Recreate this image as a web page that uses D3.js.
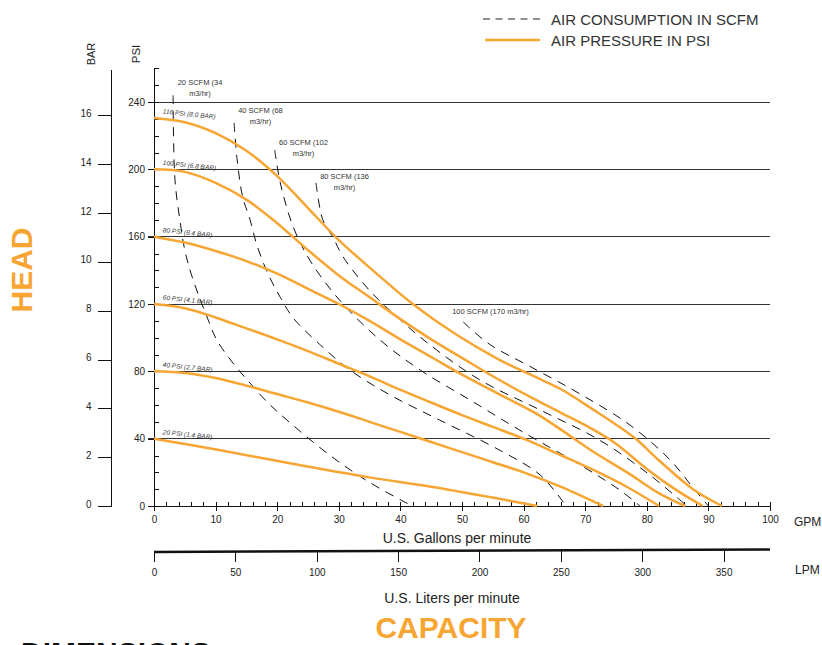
<!DOCTYPE html>
<html>
<head>
<meta charset="utf-8">
<title>Pump Performance Curve</title>
<style>
  body { margin: 0; padding: 0; background: #fff; overflow: hidden; }
  svg { display: block; font-family: "Liberation Sans", Arial, sans-serif; }
  .axis path, .axis line { stroke: #111; shape-rendering: crispEdges; }
  .axis text { fill: #222; font-size: 10px; font-family: "Liberation Sans", Arial, sans-serif; }
  .grid { stroke: #333; stroke-width: 1; shape-rendering: crispEdges; }
  .pressure { fill: none; stroke: #f7a634; stroke-width: 2.5; }
  .air { fill: none; stroke: #111; stroke-width: 1; stroke-dasharray: 9,7; }
  .note { fill: #333; font-size: 7.5px; }
  .psinote { fill: #333; font-size: 6.5px; font-style: italic; }
</style>
</head>
<body>
<svg id="chart" width="822" height="645"></svg>
<script src="https://d3js.org/d3.v7.min.js"></script>
<script>
// tick labels
const gpmTicks = [0, 10, 20, 30, 40, 50, 60, 70, 80, 90, 100];
const psiTicks = [0, 40, 80, 120, 160, 200, 240];
const barTicks = [0, 2, 4, 6, 8, 10, 12, 14, 16];
const lpmTicks = [0, 50, 100, 150, 200, 250, 300, 350];

// air pressure curves, [GPM, head PSI]
const psi116 = [[0,230.5],[5,228],[10,221.5],[15,211],[20,196],[25,177],[30,158],[36,138.5],[42,120],[49,102],[56,87],[62,76.5],[66,69.5],[71,58],[78,40.5],[82,27],[87.5,10],[92.2,0]];
const psi100 = [[0,200],[5,198.5],[10,192],[15,182],[20,168],[25,152],[30,137],[35,124],[40,111],[45,99],[50,88],[56,75],[62,63],[66,55.5],[71,46],[75,37],[80,22],[85,9],[89.1,0]];
const psi80 = [[0,160],[5,156.5],[10,151.5],[15,145.5],[20,138],[25,129],[30,120],[35,110],[40,99],[45,88.5],[50,78],[56,66.5],[62,55],[66,45.5],[71,33],[77,19.5],[82,7.5],[86.2,0]];
const psi60 = [[0,120],[5,117.5],[10,112],[15,105.5],[20,99],[25,92],[30,84.5],[35,77],[40,69],[45,61.5],[50,54],[55,47],[60,40],[66,30.3],[71,22],[76.8,11.3],[82,0]];
const psi40 = [[0,80],[5,79],[10,76],[15,71.5],[20,66.5],[25,61.5],[30,56],[35,50],[40,44],[45,38],[50,32],[55,26],[60,20],[66,11.5],[72.9,0]];
const psi20 = [[0,40],[11,33],[24,24],[35,17],[45,11.5],[55,5],[62.2,0]];
const pressureNames = ["116 PSI (8.0 BAR)", "100 PSI (6.8 BAR)", "80 PSI (8.4 BAR)", "60 PSI (4.1 BAR)", "40 PSI (2.7 BAR)", "20 PSI (1.4 BAR)"];

// air consumption curves, [GPM, head PSI]
const scfm20 = [[3.1,244],[3.4,194],[4.2,170],[5.0,152],[6.2,136],[8.8,110.5],[10.2,98.6],[12.8,85],[15.6,73],[18.3,62],[21.6,51],[28.6,30],[35,14],[41.9,0]];
const scfm40 = [[13,227.6],[13.5,205.6],[14.4,183.6],[15.6,170],[16.7,155],[18.5,138],[20.5,124],[22.6,111.7],[27,95.7],[31.8,80.8],[38.3,66],[46.4,51],[56.2,33],[62.7,18.4],[66.9,0]];
const scfm60 = [[19.6,211.5],[20.5,192],[22.6,165.8],[25.3,146],[30.2,122],[36.7,98.6],[43.2,80.8],[51.3,63],[59.4,45],[69.2,24.4],[75.6,9.5],[78.9,0]];
const scfm80 = [[26.3,192],[27.4,170],[29,160],[30.7,148],[35,128],[40,110.5],[44.8,95.7],[52.9,74.9],[62.7,57],[72.4,39],[80.5,18.4],[86.5,0]];
const scfm100 = [[50.2,109.3],[54.5,96],[61,83],[69.2,66.5],[77.3,48],[83.8,27.3],[87.8,9.5],[90,0]];
const scfmNames = [["20 SCFM (34", "m3/hr)"], ["40 SCFM (68", "m3/hr)"], ["60 SCFM (102", "m3/hr)"], ["80 SCFM (136", "m3/hr)"], ["100 SCFM (170 m3/hr)"]];

const PSI_PER_BAR = 14.5;
const LPM_PER_GPM = 3.785;

const svg = d3.select('#chart');
svg.append('rect').attr('width', 822).attr('height', 645).attr('fill', '#fff');

const x = d3.scaleLinear().domain([0, 100]).range([154, 770]);
const y = d3.scaleLinear().domain([0, 260]).range([506, 506 - 260 * 404 / 240]);
const yBar = d3.scaleLinear().domain([0, 16]).range([y(0), y(16 * PSI_PER_BAR)]);
const xLpm = d3.scaleLinear().domain([0, 100 * LPM_PER_GPM]).range([154, 770]);

// horizontal grid
svg.append('g').selectAll('line')
  .data(psiTicks.filter(d => d > 0))
  .join('line')
  .attr('class', 'grid')
  .attr('x1', 148).attr('x2', 770)
  .attr('y1', d => y(d)).attr('y2', d => y(d));

// PSI axis
svg.append('g').attr('class', 'axis')
  .attr('transform', 'translate(154,0)')
  .call(d3.axisRight(y).tickValues(d3.range(0, 261, 10)).tickSize(5).tickFormat('').tickSizeOuter(0));
svg.append('g').attr('class', 'axis')
  .attr('transform', 'translate(154,0)')
  .call(d3.axisLeft(y).tickValues(psiTicks).tickSize(6).tickPadding(3).tickSizeOuter(0))
  .call(g => g.select('.domain').remove());

// BAR axis
svg.append('line').attr('x1', 111.5).attr('x2', 111.5).attr('y1', 70).attr('y2', 507)
  .attr('stroke', '#111');
svg.append('g').attr('class', 'axis')
  .attr('transform', 'translate(111.5,0)')
  .call(d3.axisLeft(yBar).tickValues(barTicks).tickSize(14).tickPadding(6).tickSizeOuter(0))
  .call(g => g.select('.domain').remove())
  .call(g => g.selectAll('line').attr('stroke', '#555'))
  .call(g => g.selectAll('text').attr('font-size', 10.5).attr('dy', '0.1em'));

// GPM axis
svg.append('g').attr('class', 'axis')
  .attr('transform', 'translate(0,506)')
  .call(d3.axisTop(x).tickValues(d3.range(0, 101, 2)).tickSize(4).tickFormat('').tickSizeOuter(0));
svg.append('g').attr('class', 'axis')
  .attr('transform', 'translate(0,506)')
  .call(d3.axisBottom(x).tickValues(gpmTicks).tickSize(5).tickPadding(5).tickSizeOuter(0))
  .call(g => g.select('.domain').remove());

// LPM axis
svg.append('line').attr('x1', 154).attr('x2', 770).attr('y1', 552).attr('y2', 549.5)
  .attr('stroke', '#111').attr('stroke-width', 2.5);
svg.append('g').attr('class', 'axis')
  .attr('transform', 'translate(0,551)')
  .call(d3.axisBottom(xLpm).tickValues(lpmTicks).tickSize(11).tickPadding(7).tickSizeOuter(0))
  .call(g => g.select('.domain').remove());

// curves
const line = d3.line().x(d => x(d[0])).y(d => y(d[1])).curve(d3.curveCatmullRom.alpha(0.5));

const airCurves = [scfm20, scfm40, scfm60, scfm80, scfm100];
svg.append('g').selectAll('path')
  .data(airCurves)
  .join('path')
  .attr('class', 'air')
  .attr('d', line);

const pressureCurves = [psi116, psi100, psi80, psi60, psi40, psi20];
svg.append('g').selectAll('path')
  .data(pressureCurves)
  .join('path')
  .attr('class', 'pressure')
  .attr('d', line);

// pressure labels, sitting just over each curve's start
svg.append('g').selectAll('text')
  .data(pressureNames)
  .join('text')
  .attr('class', 'psinote')
  .attr('transform', (d, i) => `translate(${x(1.4)},${y(pressureCurves[i][0][1]) - 4.5}) rotate(6)`)
  .text(d => d);

// air consumption labels
const scfmLabelAt = [[7.47, 250.1], [17.29, 233.5], [24.27, 214.5], [30.93, 194.3], [48.4, 114.1]];
scfmNames.forEach((lines, i) => {
  const t = svg.append('text').attr('class', 'note')
    .attr('x', x(scfmLabelAt[i][0])).attr('y', y(scfmLabelAt[i][1]))
    .attr('text-anchor', lines.length > 1 ? 'middle' : 'start');
  lines.forEach((s, j) => {
    t.append('tspan').attr('x', x(scfmLabelAt[i][0])).attr('dy', j ? 11 : 0).text(s);
  });
});

// axis titles
svg.append('text').attr('transform', 'translate(95,54) rotate(-90)')
  .attr('text-anchor', 'middle').attr('font-size', 11).attr('fill', '#222').text('BAR');
svg.append('text').attr('transform', 'translate(139.5,54) rotate(-90)')
  .attr('text-anchor', 'middle').attr('font-size', 11.5).attr('fill', '#222').text('PSI');
svg.append('text').attr('x', 794).attr('y', 526).attr('font-size', 12).attr('fill', '#222').text('GPM');
svg.append('text').attr('x', 795).attr('y', 574).attr('font-size', 12).attr('fill', '#222').text('LPM');
svg.append('text').attr('x', 457).attr('y', 543).attr('text-anchor', 'middle')
  .attr('font-size', 14).attr('fill', '#222').text('U.S. Gallons per minute');
svg.append('text').attr('x', 452).attr('y', 603).attr('text-anchor', 'middle')
  .attr('font-size', 14).attr('fill', '#222').text('U.S. Liters per minute');
svg.append('text').attr('x', 451).attr('y', 638).attr('text-anchor', 'middle')
  .attr('font-size', 30).attr('font-weight', 'bold').attr('fill', '#f7a634').text('CAPACITY');
svg.append('text').attr('transform', 'translate(32,270) rotate(-90)')
  .attr('text-anchor', 'middle').attr('font-size', 30).attr('font-weight', 'bold')
  .attr('fill', '#f7a634').text('HEAD');
svg.append('text').attr('x', 21).attr('y', 663)
  .attr('font-size', 30).attr('font-weight', 'bold').attr('fill', '#111').text('DIMENSIONS');

// legend
const legend = svg.append('g');
legend.append('line').attr('x1', 483).attr('x2', 541).attr('y1', 19).attr('y2', 19)
  .attr('stroke', '#222').attr('stroke-width', 1.2).attr('stroke-dasharray', '7,5.5');
legend.append('line').attr('x1', 485).attr('x2', 540).attr('y1', 40).attr('y2', 40)
  .attr('stroke', '#f7a634').attr('stroke-width', 2.5);
legend.append('text').attr('x', 551).attr('y', 24.5).attr('font-size', 15).attr('fill', '#333')
  .text('AIR CONSUMPTION IN SCFM');
legend.append('text').attr('x', 551).attr('y', 45.5).attr('font-size', 15).attr('fill', '#333')
  .text('AIR PRESSURE IN PSI');
</script>
</body>
</html>
